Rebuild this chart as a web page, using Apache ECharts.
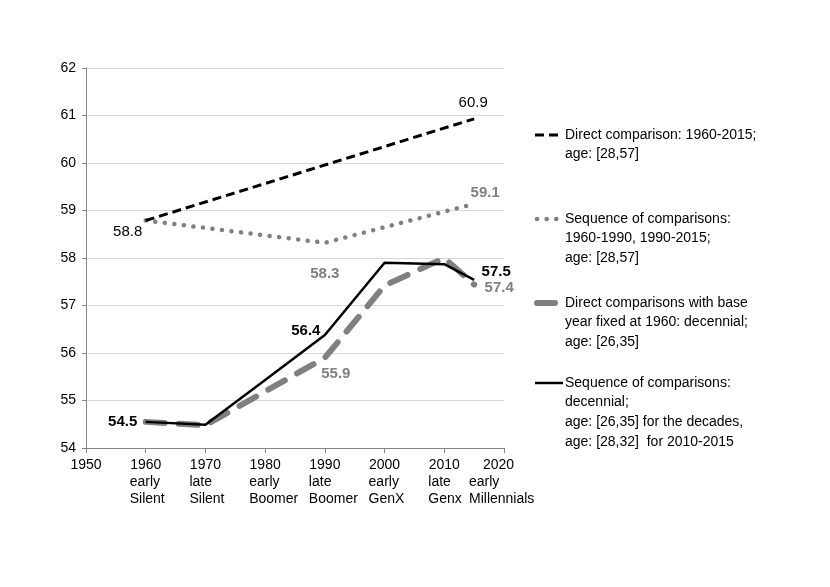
<!DOCTYPE html>
<html>
<head>
<meta charset="utf-8">
<script src="https://cdn.jsdelivr.net/npm/echarts@6/dist/echarts.min.js"></script>
<style>html,body{margin:0;padding:0;background:#fff}#c{width:830px;height:587px}</style>
</head>
<body>
<div id="c"></div>
<script>
// ---- data ----
var yearTicks = [1950, 1960, 1970, 1980, 1990, 2000, 2010, 2020];
var genLine1 = ['', 'early', 'late', 'early', 'late', 'early', 'late', 'early'];
var genLine2 = ['', 'Silent', 'Silent', 'Boomer', 'Boomer', 'GenX', 'Genx', 'Millennials'];

var directYears = [1960, 2015];
var directValues = [58.79, 60.93];

var seqYears = [1960, 1990, 2015];
var seqValues = [58.79, 58.32, 59.14];

var baseYears = [1960, 1970, 1980, 1990, 2000, 2010, 2015];
var baseValues = [54.55, 54.48, 55.19, 55.9, 57.42, 58.0, 57.44];

var decYears = [1960, 1970, 1980, 1990, 2000, 2010, 2015];
var decValues = [54.55, 54.49, 55.43, 56.38, 57.9, 57.87, 57.54];

var legendNames = [
  'Direct comparison: 1960-2015;\nage: [28,57]',
  'Sequence of comparisons:\n1960-1990, 1990-2015;\nage: [28,57]',
  'Direct comparisons with base\nyear fixed at 1960: decennial;\nage: [26,35]',
  'Sequence of comparisons:\ndecennial;\nage: [26,35] for the decades,\nage: [28,32]  for 2010-2015'
];

// ---- helpers ----
var FONT = '"Liberation Sans", Arial, sans-serif';
function pairs(xs, ys) { return xs.map(function (x, i) { return [x, ys[i]]; }); }
// labelSpec: {index: {offset:[dx,dy], color, bold}}
function buildData(xs, ys, labelSpec) {
  return pairs(xs, ys).map(function (p, i) {
    var item = { value: p };
    var s = labelSpec[i];
    if (s) {
      item.label = {
        show: true, position: 'inside', offset: s.offset,
        formatter: function (prm) { return prm.value[1].toFixed(1); },
        color: s.color, fontWeight: s.bold ? 'bold' : 'normal',
        fontSize: 15, fontFamily: FONT
      };
    }
    return item;
  });
}
var hiddenSym = { color: 'rgba(0,0,0,0)', borderWidth: 0 };

var GRAY = '#808080';

var option = {
  backgroundColor: '#ffffff',
  animation: false,
  grid: { left: 86, right: 326, top: 68, bottom: 139 },
  xAxis: {
    type: 'value', min: 1950, max: 2020, interval: 10,
    axisLine: { show: true, lineStyle: { color: '#868686', width: 1 } },
    axisTick: { show: true, length: 5, lineStyle: { color: '#868686' } },
    splitLine: { show: false },
    axisLabel: {
      margin: 8, showMinLabel: true, showMaxLabel: true, hideOverlap: false,
      fontFamily: FONT, fontSize: 14, color: '#000',
      formatter: function (v) {
        var i = yearTicks.indexOf(v);
        if (i < 0) return '';
        if (!genLine1[i]) return '{y|' + v + '}';
        if (i === yearTicks.length - 1) {
          return '{yl|' + v + '}\n{w|' + genLine1[i] + '}\n{w|' + genLine2[i] + '}';
        }
        return '{y|' + v + '}\n{g|' + genLine1[i] + '}\n{g|' + genLine2[i] + '}';
      },
      rich: {
        y: { fontFamily: FONT, fontSize: 14, color: '#000', width: 32, align: 'center', lineHeight: 18 },
        g: { fontFamily: FONT, fontSize: 14, color: '#000', width: 32, align: 'left', lineHeight: 17 },
        yl: { fontFamily: FONT, fontSize: 14, color: '#000', width: 56, align: 'left', padding: [0, 0, 0, 14], lineHeight: 18 },
        w: { fontFamily: FONT, fontSize: 14, color: '#000', width: 70, align: 'left', lineHeight: 17 }
      }
    }
  },
  yAxis: {
    type: 'value', min: 54, max: 62, interval: 1,
    axisLine: { show: true, lineStyle: { color: '#868686', width: 1 } },
    axisTick: { show: true, length: 4, lineStyle: { color: '#868686' } },
    splitLine: { show: true, lineStyle: { color: '#d9d9d9', width: 1 } },
    axisLabel: { margin: 10, fontFamily: FONT, fontSize: 14, color: '#000' }
  },
  series: [
    {
      name: 'seq', type: 'line', z: 2,
      showSymbol: true, symbol: 'circle', symbolSize: 1, itemStyle: hiddenSym,
      lineStyle: { color: GRAY, width: 4.5, type: [0.1, 9.5], cap: 'round' },
      data: buildData(seqYears, seqValues, {
        1: { offset: [0, 31], color: GRAY, bold: true },
        2: { offset: [11, -11], color: GRAY, bold: true }
      })
    },
    {
      name: 'direct', type: 'line', z: 3,
      showSymbol: true, symbol: 'circle', symbolSize: 1, itemStyle: hiddenSym,
      lineStyle: { color: '#000', width: 3, type: [9, 5] },
      data: buildData(directYears, directValues, {
        0: { offset: [-18, 11], color: '#000', bold: false },
        1: { offset: [-1, -16], color: '#000', bold: false }
      })
    },
    {
      name: 'base', type: 'line', z: 4,
      showSymbol: true, symbol: 'circle', symbolSize: 1, itemStyle: hiddenSym,
      lineStyle: { color: GRAY, width: 6, type: [19, 14], cap: 'round' },
      data: buildData(baseYears, baseValues, {
        3: { offset: [11, 16], color: GRAY, bold: true },
        6: { offset: [25, 3], color: GRAY, bold: true }
      })
    },
    {
      name: 'dec', type: 'line', z: 5,
      showSymbol: true, symbol: 'circle', symbolSize: 1, itemStyle: hiddenSym,
      lineStyle: { color: '#000', width: 2.5 },
      data: buildData(decYears, decValues, {
        0: { offset: [-23, 0], color: '#000', bold: true },
        3: { offset: [-19, -4], color: '#000', bold: true },
        6: { offset: [22, -8], color: '#000', bold: true }
      })
    }
  ],
  graphic: []
};

// ---- legend drawn with graphic elements ----
var legendTops = [135, 219, 303, 383];
var legendIcons = [
  { x1: 535, x2: 563, stroke: '#000', lineWidth: 3, lineDash: [9, 5], lineCap: 'butt' },
  { x1: 537, x2: 561, stroke: GRAY, lineWidth: 4.5, lineDash: [0.1, 9.5], lineCap: 'round' },
  { x1: 537, x2: 555, stroke: GRAY, lineWidth: 6, lineDash: null, lineCap: 'round' },
  { x1: 535, x2: 563, stroke: '#000', lineWidth: 2.5, lineDash: null, lineCap: 'butt' }
];
legendNames.forEach(function (name, i) {
  var ic = legendIcons[i];
  option.graphic.push({
    type: 'line', silent: true,
    shape: { x1: ic.x1, y1: legendTops[i], x2: ic.x2, y2: legendTops[i] },
    style: { stroke: ic.stroke, lineWidth: ic.lineWidth, lineDash: ic.lineDash, lineCap: ic.lineCap }
  });
  option.graphic.push({
    type: 'text', silent: true,
    x: 565, y: legendTops[i] - 10,
    style: {
      text: name, fill: '#000', font: '14px ' + FONT,
      lineHeight: 19.7, textVerticalAlign: 'top', verticalAlign: 'top'
    }
  });
});

var chart = echarts.init(document.getElementById('c'), null, { renderer: 'canvas' });
chart.setOption(option);
</script>
</body>
</html>
